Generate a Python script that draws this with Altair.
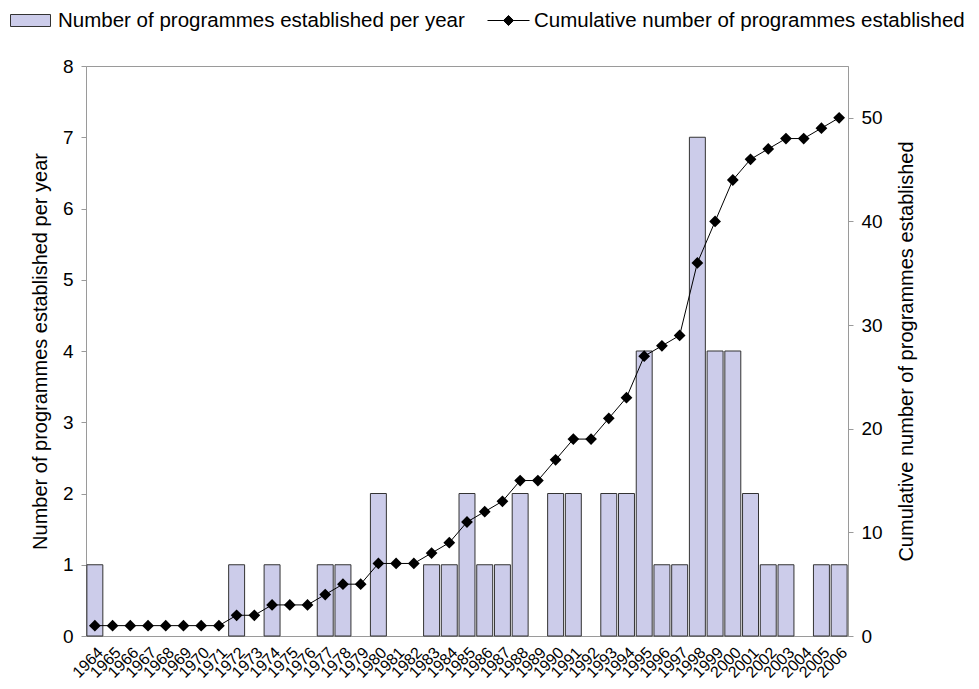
import altair as alt
import pandas as pd

years = [str(y) for y in range(1964, 2007)]
per_year = [1, 0, 0, 0, 0, 0, 0, 0, 1, 0, 1, 0, 0, 1, 1, 0, 2, 0, 0, 1, 1, 2,
            1, 1, 2, 0, 2, 2, 0, 2, 2, 4, 1, 1, 7, 4, 4, 2, 1, 1, 0, 1, 1]
cumulative = [1, 1, 1, 1, 1, 1, 1, 1, 2, 2, 3, 3, 3, 4, 5, 5, 7, 7, 7, 8, 9, 11,
              12, 13, 15, 15, 17, 19, 19, 21, 23, 27, 28, 29, 36, 40, 44, 46, 47, 48, 48, 49, 50]
left_ticks = [0, 1, 2, 3, 4, 5, 6, 7, 8]
right_ticks = [0, 10, 20, 30, 40, 50]

bar_name = "Number of programmes established per year"
line_name = "Cumulative number of programmes established"

df = pd.DataFrame({
    "year": years,
    "per_year": per_year,
    "cumulative": cumulative,
    "s1": [bar_name] * len(years),
    "s2": [line_name] * len(years),
})

FONT = "Liberation Sans"
GRAY = "#9a9a9a"

x_enc = alt.X("year:N", sort=years, title=None,
              scale=alt.Scale(domain=years),
              axis=alt.Axis(labelAngle=315, labelFontSize=16, labelPadding=8,
                            ticks=False, domainColor=GRAY, labelColor="black"))

bars = alt.Chart(df).transform_filter("datum.per_year > 0").mark_bar(
    stroke="#333333", strokeWidth=1
).encode(
    x=x_enc,
    y=alt.Y("per_year:Q", scale=alt.Scale(domain=[0, 8], nice=False),
            axis=alt.Axis(values=left_ticks, title="Number of programmes established per year",
                          orient="left", grid=False, tickSize=5, labelPadding=8,
                          titlePadding=12, labelFontSize=19, titleFontSize=20)),
    fill=alt.Fill("s1:N", scale=alt.Scale(domain=[bar_name], range=["#ccccea"]),
                  legend=alt.Legend(title=None, orient="none", legendX=-76, legendY=-66,
                                    symbolType="M-1,-0.3H1V0.3H-1Z", symbolSize=1600,
                                    symbolStrokeColor="#333333", symbolStrokeWidth=1,
                                    labelFontSize=20.5, labelOffset=7, labelLimit=600, padding=0)),
)

line = alt.Chart(df).mark_line(
    strokeWidth=1,
    point=alt.OverlayMarkDef(shape="diamond", filled=True, size=80, color="black"),
).encode(
    x=alt.X("year:N", sort=years, scale=alt.Scale(domain=years)),
    y=alt.Y("cumulative:Q", scale=alt.Scale(domain=[0, 55], nice=False),
            axis=alt.Axis(values=right_ticks, title="Cumulative number of programmes established",
                          orient="right", grid=False, tickSize=5, labelPadding=8,
                          titlePadding=34, titleAngle=270, labelFontSize=19, titleFontSize=20)),
    stroke=alt.Stroke("s2:N", scale=alt.Scale(domain=[line_name], range=["black"]),
                      legend=alt.Legend(title=None, orient="none", legendX=401, legendY=-67,
                                        symbolType="M-1,0H1M0,-0.24L0.24,0L0,0.24L-0.24,0Z",
                                        symbolSize=1764, symbolStrokeColor="black",
                                        symbolFillColor="black", symbolStrokeWidth=1,
                                        labelFontSize=20.5, labelOffset=4, labelLimit=600, padding=0)),
)

chart = alt.layer(bars, line).resolve_scale(
    y="independent", fill="independent", stroke="independent"
).properties(
    width=762, height=570,
    autosize=alt.AutoSizeParams(type="none"),
    padding={"left": 78, "top": 58, "right": 123, "bottom": 70},
).configure(
    font=FONT,
).configure_view(
    stroke=GRAY, strokeWidth=1,
).configure_axis(
    domainColor=GRAY, tickColor=GRAY, labelColor="black", titleColor="black",
    titleFontWeight="normal", labelFont=FONT, titleFont=FONT,
).configure_legend(
    labelFont=FONT, labelColor="black",
)

chart.save("out.html", embed_options={"renderer": "svg", "actions": False})
